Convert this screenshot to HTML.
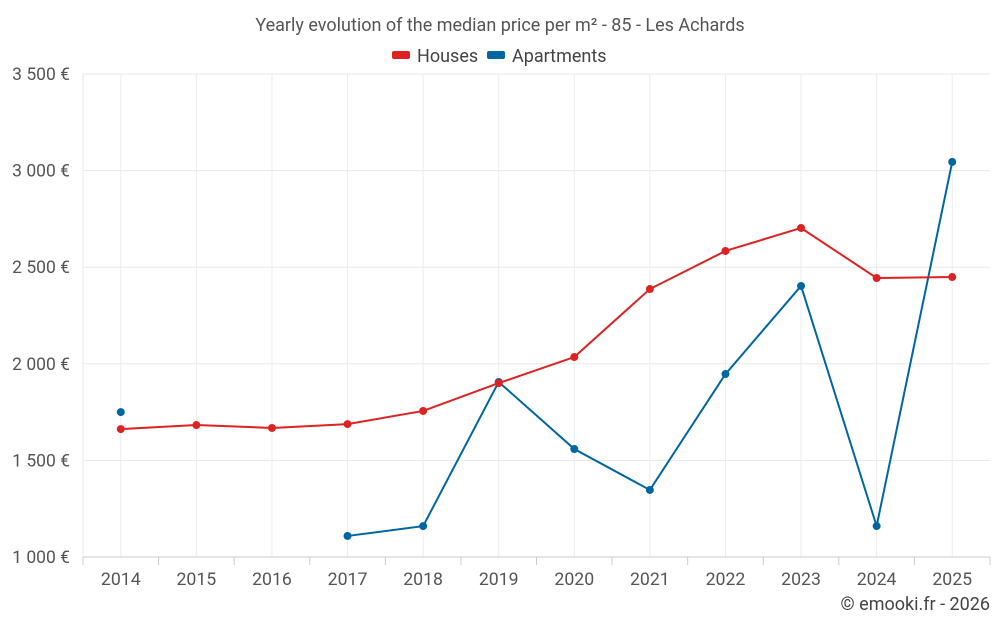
<!DOCTYPE html>
<html><head><meta charset="utf-8"><style>
body{margin:0;background:#fff;font-family:"Liberation Sans",sans-serif;}
svg text{font-family:"Roboto","Liberation Sans",sans-serif;}
</style></head><body>
<svg id="chart" width="1000" height="625" viewBox="0 0 1000 625" xmlns="http://www.w3.org/2000/svg">
<text x="500" y="31" text-anchor="middle" font-size="18" fill="#555">Yearly evolution of the median price per m² - 85 - Les Achards</text>
<g><rect x="392" y="51" width="18" height="8" rx="2" fill="#dd2222"/><text x="417" y="62" font-size="18" fill="#444">Houses</text></g>
<g><rect x="487" y="51" width="18" height="8" rx="2" fill="#0066a0"/><text x="512" y="62" font-size="18" fill="#444">Apartments</text></g>
<g id="grid"></g><g id="axes"></g><g id="series"></g>
<text x="990" y="610" text-anchor="end" font-size="18" fill="#444">© emooki.fr - 2026</text>
</svg>
<script>
const years=[2014,2015,2016,2017,2018,2019,2020,2021,2022,2023,2024,2025];
const houses=[1662,1683,1668,1688,1756,1900,2035,2387,2584,2703,2444,2449];
const apartments=[1750,null,null,1109,1160,1906,1559,1347,1947,2403,1160,3045];
const yTicks=[1000,1500,2000,2500,3000,3500];
const yTickLabels=["1 000 €","1 500 €","2 000 €","2 500 €","3 000 €","3 500 €"];
const L=83,R=990,T=74,B=557,yMin=1000,yMax=3500;
const step=(R-L)/years.length;
const x=i=>L+step*(i+0.5);
const y=v=>B-(v-yMin)/(yMax-yMin)*(B-T);
const NS="http://www.w3.org/2000/svg";
function mk(tag,attrs,parent){const e=document.createElementNS(NS,tag);for(const k in attrs)e.setAttribute(k,attrs[k]);parent.appendChild(e);return e;}
const grid=document.getElementById('grid'),axes=document.getElementById('axes'),series=document.getElementById('series');
yTicks.forEach((t,i)=>{
 const l=mk('line',{x1:L,x2:R,y1:y(t),y2:y(t),stroke:'#e8e8e8'},grid);
 
 
 const tx=mk('text',{x:70,y:y(t)+6,'text-anchor':'end','font-size':17.5,fill:'#555'},axes);
 tx.textContent=yTickLabels[i];
 
 
});
mk('line',{x1:L,x2:L,y1:T,y2:B,stroke:'#e8e8e8'},grid);
years.forEach((yr,i)=>{
 const g=mk('line',{x1:x(i),x2:x(i),y1:T,y2:B,stroke:'#ececec'},grid);
 
 
 mk('line',{x1:L+step*(i+1),x2:L+step*(i+1),y1:B,y2:B+8,stroke:'#ccc'},axes);
 const tx=mk('text',{x:x(i),y:585,'text-anchor':'middle','font-size':17.7,fill:'#555'},axes);
 tx.textContent=yr;
 
 
});
mk('line',{x1:L,x2:L,y1:B,y2:B+8,stroke:'#ccc'},axes);
const ax=mk('line',{x1:L,x2:R,y1:B,y2:B,stroke:'#ccc'},axes);


function draw(data,color,name){
 let d='',pen=false;
 data.forEach((v,i)=>{if(v==null){pen=false;return;}d+=(pen?'L':'M')+x(i)+' '+y(v)+' ';pen=true;});
 const p=mk('path',{d:d,fill:'none',stroke:color,'stroke-width':2},series);
 
 
 data.forEach((v,i)=>{if(v==null)return;
  const c=mk('circle',{cx:x(i),cy:y(v),r:4,fill:color},series);
  
  
 });
}
draw(apartments,'#0066a0','apartments');
draw(houses,'#dd2222','houses');
</script>
</body></html>
